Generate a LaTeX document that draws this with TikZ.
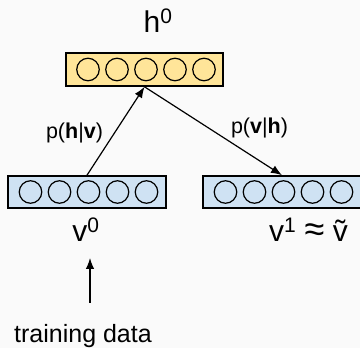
\documentclass[tikz,border=0pt]{standalone}
\usepackage{fontspec}
\setmainfont{Liberation Sans}
\usepackage{xcolor}
\definecolor{hidyellow}{HTML}{FFE599}
\definecolor{visblue}{HTML}{CFE2F3}
\definecolor{paper}{HTML}{FAFAFA}
\usepackage{tikz}
\usetikzlibrary{arrows.meta, calc}

\begin{document}
\begin{tikzpicture}[x=1pt, y=-1pt, thick,
	layer/.style={draw, line width=1.6pt, minimum width=158pt, minimum height=32pt, inner sep=0pt},
	unit/.style={circle, draw, line width=1.2pt, minimum size=22.5pt, inner sep=0pt},
	arr/.style={-{Latex[length=11pt, width=8.5pt]}, line width=1.2pt},
	bigtext/.style={font=\fontsize{30}{36}\selectfont, anchor=base},
	probtext/.style={font=\fontsize{21.5}{25}\selectfont}]
	
	\fill[paper] (0, 0) rectangle (360, 348);
	\useasboundingbox (0, 0) rectangle (360, 348);
	
	% layers
	\node[layer, fill=hidyellow, minimum width=157pt, minimum height=33pt] (h) at (144.5, 69.5) {};
	\node[layer, fill=visblue] (v0) at (87, 192) {};
	\node[layer, fill=visblue] (v1) at (282, 192) {};
	\foreach \l in {h, v0, v1} {
		\foreach \k in {1,...,5} {
			\node[unit] (\l-\k) at ($(\l) + ({(\k-3)*29+1.5}, 0)$) {};
		}
	}
	
	% names
	\node[bigtext] (hlab) at (158, 33) {h\textsuperscript{0}};
	\node[bigtext] (v0lab) at (86, 242) {v\textsuperscript{0}};
	\node[bigtext] (v1lab) at (308.5, 242) {v\textsuperscript{1} {\fontsize{36}{40}\selectfont ≈} ṽ};
	\node[font=\fontsize{25}{30}\selectfont, anchor=base] (td) at (83, 343) {training data};
	
	% sampling
	\draw[arr] (v0.north) -- (h.south);
	\draw[arr] (h.south) -- (v1.north);
	\node[probtext] (phv) at (74.5, 133) {p(\textbf{h}|\textbf{v})};
	\node[probtext] (pvh) at (259.5, 127.5) {p(\textbf{v}|\textbf{h})};
	
	\coordinate (feed) at (90, 303);
	\draw[arr] (feed) -- ++(0, -45);
\end{tikzpicture}
\end{document}
